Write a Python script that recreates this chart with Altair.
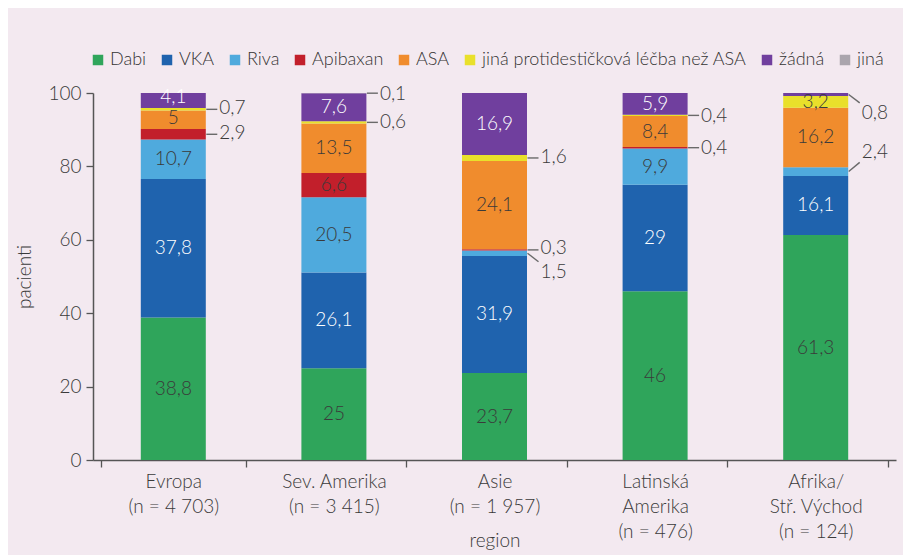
import altair as alt
import pandas as pd

# ---- data ----
regions = [
    "Evropa\n(n = 4 703)",
    "Sev. Amerika\n(n = 3 415)",
    "Asie\n(n = 1 957)",
    "Latinská\nAmerika\n(n = 476)",
    "Afrika/\nStř. Východ\n(n = 124)",
]
series = ["Dabi", "VKA", "Riva", "Apibaxan", "ASA",
          "jiná protidestičková léčba než ASA", "žádná", "jiná"]
colors = ["#2fa55b", "#1f63ae", "#4faadd", "#c21f2b", "#f08c2d",
          "#e9e02b", "#703f9e", "#aaa5ad"]

dabi = [38.8, 25, 23.7, 46, 61.3]
vka = [37.8, 26.1, 31.9, 29, 16.1]
riva = [10.7, 20.5, 1.5, 9.9, 2.4]
apixaban = [2.9, 6.6, 0.3, 0.4, 0]
asa = [5, 13.5, 24.1, 8.4, 16.2]
jina_prot = [0.7, 0.6, 1.6, 0.4, 3.2]
zadna = [4.1, 7.6, 16.9, 5.9, 0.8]
jina = [0, 0.1, 0, 0, 0]
values = [dabi, vka, riva, apixaban, asa, jina_prot, zadna, jina]

# level (in %) where the outside labels sit: (region index, series index) -> level
outside_levels = {
    (0, 3): 89.0, (0, 5): 95.9,
    (1, 5): 92.2, (1, 7): 99.8,
    (2, 2): 51.2, (2, 3): 57.8, (2, 5): 82.5,
    (3, 3): 85.0, (3, 5): 93.8,
    (4, 2): 83.9, (4, 6): 94.5,
}
# inside labels not at their segment's centre
inside_levels = {(0, 6): 99.0, (0, 4): 93.3}
white_text = {"VKA", "žádná"}


def fmt(v):
    return f"{v:g}".replace(".", ",")


bar_rows, in_rows, out_rows = [], [], []
for i, reg in enumerate(regions):
    cum = 0.0
    for j, s in enumerate(series):
        v = values[j][i]
        y0, y1 = cum, cum + v
        cum = y1
        mid = (y0 + y1) / 2
        bar_rows.append({"region": reg, "series": s, "idx": j, "y0": y0, "y1": y1})
        if v >= 3:
            in_rows.append({"region": reg, "level": inside_levels.get((i, j), mid),
                            "label": fmt(v), "white": s in white_text})
        elif (i, j) in outside_levels:
            lev = outside_levels[(i, j)]
            d = mid - lev
            step = min(abs(d), 2.8)
            end = lev + (step if d > 0 else -step)
            out_rows.append({"region": reg, "level": lev, "mid": mid, "end": end,
                             "label": fmt(v)})

bars_df = pd.DataFrame(bar_rows)
in_df = pd.DataFrame(in_rows)
out_df = pd.DataFrame(out_rows)

FONT = "Lato"
FW = 300
TXT = "#3a3a3a"

x_axis = alt.Axis(
    title="region", labelAngle=0, tickBand="extent",
    labelExpr="split(datum.label, '\\n')", labelLineHeight=25,
    labelPadding=5, titleY=86, titleBaseline="alphabetic",
)
y_axis = alt.Axis(title="pacienti", values=[0, 20, 40, 60, 80, 100],
                  labelPadding=5, titlePadding=13)
y_scale = alt.Scale(domain=[0, 100], nice=False)


def xenc():
    return alt.X("region:N", sort=regions, axis=x_axis)


bars = alt.Chart(bars_df).mark_bar(size=65).encode(
    x=xenc(),
    y=alt.Y("y0:Q", scale=y_scale, axis=y_axis),
    y2="y1:Q",
    color=alt.Color(
        "series:N", sort=series,
        scale=alt.Scale(domain=series, range=colors),
        legend=alt.Legend(
            orient="none", legendX=-4, legendY=-42, direction="horizontal",
            columns=8, title=None, symbolType="square", symbolSize=110,
            symbolStrokeWidth=0, labelFontSize=18, labelFont=FONT,
            labelFontWeight=FW, labelLimit=0,
            labelColor="#333333", columnPadding=11, labelOffset=3, padding=0,
        ),
    ),
)

in_dark = alt.Chart(in_df).transform_filter("!datum.white").mark_text(
    font=FONT, fontSize=19, fontWeight=FW, color=TXT, baseline="middle"
).encode(x=xenc(), y=alt.Y("level:Q", scale=y_scale, axis=y_axis), text="label:N")

in_white = alt.Chart(in_df).transform_filter("datum.white").mark_text(
    font=FONT, fontSize=19, fontWeight=FW, color="white", baseline="middle"
).encode(x=xenc(), y=alt.Y("level:Q", scale=y_scale, axis=y_axis), text="label:N")

leaders = alt.Chart(out_df).mark_rule(
    color="#6a6a6a", strokeWidth=1.4, xOffset=33, x2Offset=44
).encode(
    x=alt.X("region:N", sort=regions, axis=x_axis, bandPosition=0.5),
    x2=alt.X2("region", bandPosition=0.5),
    y=alt.Y("mid:Q", scale=y_scale, axis=y_axis),
    y2="end:Q",
)

out_text = alt.Chart(out_df).mark_text(
    font=FONT, fontSize=19, fontWeight=FW, color=TXT, align="left",
    baseline="middle", dx=46
).encode(x=xenc(), y=alt.Y("level:Q", scale=y_scale, axis=y_axis), text="label:N")

chart = alt.layer(bars, in_dark, in_white, leaders, out_text).properties(
    width=803, height=367,
    autosize=alt.AutoSizeParams(type="none"),
    padding={"left": 85, "top": 85, "right": 7, "bottom": 95},
    background="#f3e9f0",
).configure_view(stroke=None).configure_axis(
    grid=False, domainColor="#555555", tickColor="#555555", domainWidth=1.5,
    tickWidth=1.3, tickSize=7, labelFont=FONT, labelFontSize=19,
    labelFontWeight=FW, labelColor=TXT, titleFont=FONT, titleFontSize=19,
    titleFontWeight=FW, titleColor=TXT,
)

chart.save("out.html", embed_options={"renderer": "svg", "actions": False})
